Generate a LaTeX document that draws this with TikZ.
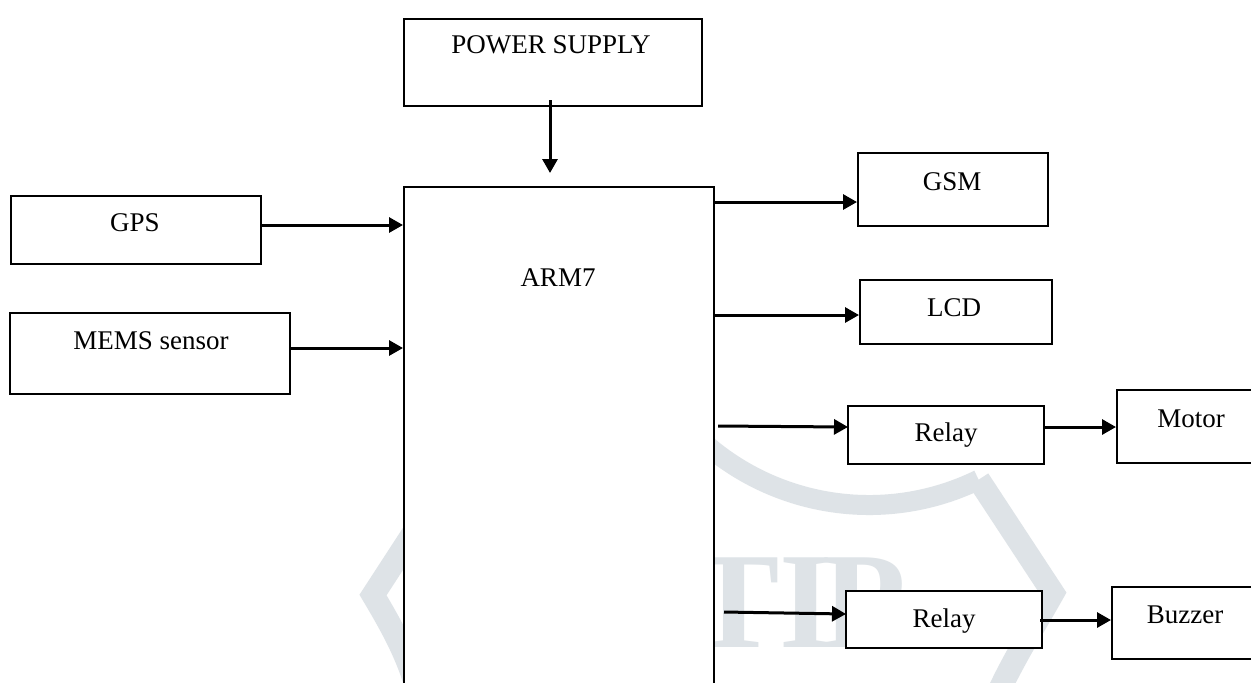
\documentclass[tikz,border=0pt]{standalone}
\usepackage{fontspec}
\setmainfont{Liberation Serif}
\usetikzlibrary{arrows.meta}
\definecolor{wm}{RGB}{222,227,231}
\tikzset{
  box/.style={draw, line width=1pt, fill=white, inner sep=0pt},
  lbl/.style={anchor=base, inner sep=0pt, font=\fontsize{13.5}{16}\selectfont},
  arr/.style={line width=1.5pt, -{Triangle[length=7pt,width=7.5pt]}},
  wmband/.style={draw=wm, line join=miter, line cap=butt}
}
\begin{document}
\begin{tikzpicture}[x=0.5pt,y=-0.5pt]
\useasboundingbox (0,0) rectangle (1251,682);
\clip (0,0) rectangle (1251,682);
\fill[white] (0,0) rectangle (1251,682);
% watermark
\draw[wmband, line width=10pt] (677.5,415.7) arc[start angle=-140, end angle=-64, radius=125pt];
\draw[wmband, line width=11.5pt] (978.6,479.7) -- (1053,593) .. controls (1035,625) and (1010,665) .. (995,700);
\draw[wmband, line width=11.5pt] (451,475) -- (373,595) .. controls (395,632) and (410,660) .. (420,700);
\node[anchor=base west, inner sep=0pt, text=wm, font=\fontsize{68.5}{70}\selectfont\bfseries] (wmtext) at (688,647) {TI\kern-5.5pt P};
% boxes
\node[box, minimum width=149pt, minimum height=43.5pt] (ps) at (553,62.5) {};
\node[box, minimum width=155pt, minimum height=266.5pt] (arm) at (559,453.5) {};
\node[box, minimum width=125pt, minimum height=34pt] (gps) at (136,230) {};
\node[box, minimum width=140pt, minimum height=40.5pt] (mems) at (150,353.5) {};
\node[box, minimum width=95pt, minimum height=36.5pt] (gsm) at (953,189.5) {};
\node[box, minimum width=96pt, minimum height=32pt] (lcd) at (956,312) {};
\node[box, minimum width=98pt, minimum height=29pt] (relayA) at (946,435) {};
\node[box, minimum width=76.5pt, minimum height=36.5pt] (motor) at (1193.5,426.5) {};
\node[box, minimum width=98pt, minimum height=28.5pt] (relayB) at (944,619.5) {};
\node[box, minimum width=79pt, minimum height=36pt] (buzzer) at (1191,623) {};
% labels
\node[lbl] (pst) at (551,53) {POWER SUPPLY};
\node[lbl] (armt) at (558,286) {ARM7};
\node[lbl] (gpst) at (135,231) {GPS};
\node[lbl] (memst) at (151,349) {MEMS sensor};
\node[lbl] (gsmt) at (952,190) {GSM};
\node[lbl] (lcdt) at (954,316) {LCD};
\node[lbl] (relayAt) at (946,441) {Relay};
\node[lbl] (motort) at (1191,427) {Motor};
\node[lbl] (relayBt) at (944,627) {Relay};
\node[lbl] (buzzert) at (1185,623) {Buzzer};
% connectors
\coordinate (p1) at (550,100);
\coordinate (p2) at (550,173);
\draw[arr] (p1) -- (p2);
\coordinate (g1) at (262,225);
\draw[arr] (g1) -- (g1 -| arm.west);
\coordinate (m1) at (290,348);
\draw[arr] (m1) -- (m1 -| arm.west);
\coordinate (o1) at (714,202);
\draw[arr] (o1) -- (o1 -| gsm.west);
\coordinate (o2) at (713,315);
\draw[arr] (o2) -- (o2 -| lcd.west);
\coordinate (o3) at (718,426);
\coordinate (o3e) at (848,427);
\draw[arr] (o3) -- (o3e);
\coordinate (r1) at (1044,427);
\draw[arr] (r1) -- (r1 -| motor.west);
\coordinate (o4) at (724,612);
\coordinate (o4e) at (846,614);
\draw[arr] (o4) -- (o4e);
\coordinate (r2) at (1040,620);
\draw[arr] (r2) -- (r2 -| buzzer.west);
\end{tikzpicture}
\end{document}
